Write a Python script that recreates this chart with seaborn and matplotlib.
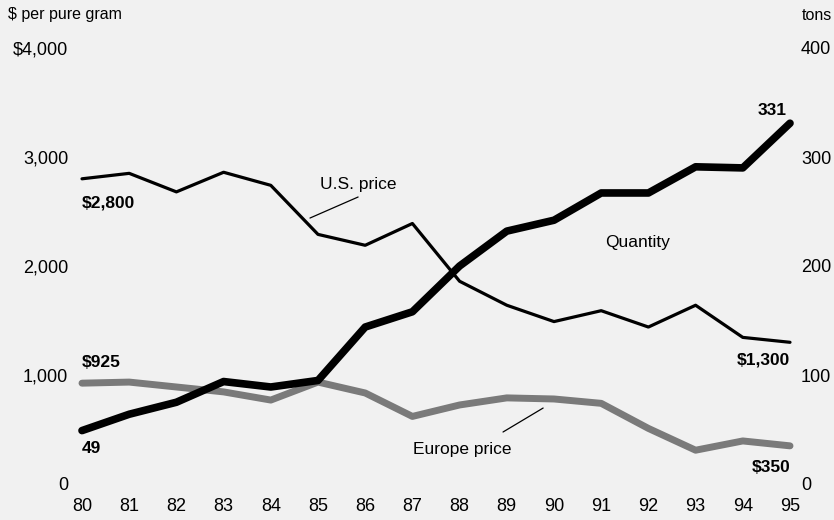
import matplotlib
matplotlib.use('Agg')
import matplotlib.pyplot as plt
import seaborn as sns
import pandas as pd

years = list(range(80, 96))
us_price = [2800, 2850, 2680, 2860, 2740, 2290, 2190, 2390, 1860, 1640, 1490, 1590, 1440, 1640, 1345, 1300]
europe_price = [925, 935, 890, 845, 770, 935, 835, 620, 725, 790, 780, 740, 510, 310, 395, 350]
quantity = [49, 64, 75, 94, 89, 95, 144, 158, 200, 232, 242, 267, 267, 291, 290, 331]

left_ticks = [0, 1000, 2000, 3000, 4000]
left_labels = ['0', '1,000', '2,000', '3,000', '$4,000']
right_ticks = [0, 100, 200, 300, 400]
right_labels = ['0', '100', '200', '300', '400']

sns.set_style('white')
plt.rcParams['font.family'] = ['Liberation Sans', 'DejaVu Sans']
plt.rcParams['text.color'] = 'black'
plt.rcParams['xtick.color'] = 'black'
plt.rcParams['ytick.color'] = 'black'

df = pd.DataFrame({'year': years, 'us': us_price, 'eu': europe_price, 'qty': quantity})

fig = plt.figure(figsize=(8.34, 5.2), dpi=100)
fig.patch.set_facecolor('#f1f1f1')
ax = fig.add_axes([82 / 834, 36 / 520, 708 / 834, 436 / 520])
ax.set_facecolor('none')
ax2 = ax.twinx()

sns.lineplot(data=df, x='year', y='eu', ax=ax, color='#7a7a7a', linewidth=5, clip_on=False)
sns.lineplot(data=df, x='year', y='us', ax=ax, color='black', linewidth=2.3, clip_on=False)
sns.lineplot(data=df, x='year', y='qty', ax=ax2, color='black', linewidth=5.5, clip_on=False)

ax.set_xlim(80, 95)
ax.set_ylim(0, 4000)
ax2.set_ylim(0, 400)
for a in (ax, ax2):
    for s in a.spines.values():
        s.set_visible(False)
    a.set_xlabel('')
    a.set_ylabel('')
ax.set_xticks(years)
ax.set_xticklabels([str(y) for y in years], fontsize=13)
ax.set_yticks(left_ticks)
ax.set_yticklabels(left_labels, fontsize=13)
ax2.set_yticks(right_ticks)
ax2.set_yticklabels(right_labels, fontsize=13)
ax.tick_params(axis='x', length=0, pad=10)
ax.tick_params(axis='y', length=0, pad=10)
ax2.tick_params(axis='y', length=0, pad=8)

bold = dict(fontsize=12.5, fontweight='bold', va='center')
ax.text(80, 2578, '$2,800', ha='left', **bold)
ax.text(80, 1119, '$925', ha='left', **bold)
ax.text(80, 330, '49', ha='left', **bold)
ax.text(94.93, 3431, '331', ha='right', **bold)
ax.text(95, 1138, '$1,300', ha='right', **bold)
ax.text(95, 147, '$350', ha='right', **bold)

ax.text(85.04, 2752, 'U.S. price', fontsize=12.5, ha='left', va='center')
ax.plot([84.83, 85.85], [2440, 2633], color='black', linewidth=0.9)
ax.text(91.08, 2220, 'Quantity', fontsize=12.5, ha='left', va='center')
ax.text(87.01, 312, 'Europe price', fontsize=12.5, ha='left', va='center')
ax.plot([88.92, 89.77], [477, 697], color='black', linewidth=0.9)

fig.text(8 / 834, 1 - 15 / 520, '$ per pure gram', fontsize=11.5, ha='left', va='center')
fig.text(832 / 834, 1 - 15 / 520, 'tons', fontsize=11.5, ha='right', va='center')

fig.savefig('out.png', dpi=100, facecolor=fig.get_facecolor())
